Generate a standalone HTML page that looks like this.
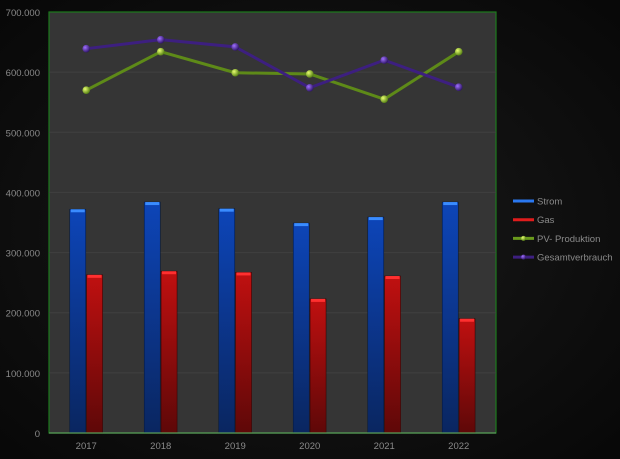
<!DOCTYPE html>
<html><head><meta charset="utf-8">
<style>
html,body{margin:0;padding:0;background:#000;}
svg{display:block;font-family:"Liberation Sans",sans-serif;}
</style></head>
<body>
<svg id="chart" width="620" height="459" viewBox="0 0 620 459">
<defs>
<radialGradient id="bg" cx="0.5" cy="0.5" r="0.8"><stop offset="0" stop-color="#1a1a1a"/><stop offset="1" stop-color="#050505"/></radialGradient>
<linearGradient id="gBlue" x1="0" x2="0" y1="0" y2="1"><stop offset="0" stop-color="#0d45b8"/><stop offset="1" stop-color="#0a2660"/></linearGradient>
<linearGradient id="gRed" x1="0" x2="0" y1="0" y2="1"><stop offset="0" stop-color="#c01010"/><stop offset="1" stop-color="#5e0808"/></linearGradient>
<radialGradient id="gGreen" cx="0.35" cy="0.35" r="0.7"><stop offset="0" stop-color="#e8ff70"/><stop offset="1" stop-color="#4f7a10"/></radialGradient>
<radialGradient id="gPurple" cx="0.35" cy="0.35" r="0.7"><stop offset="0" stop-color="#a070ff"/><stop offset="1" stop-color="#2a1260"/></radialGradient>
</defs>
<rect width="620" height="459" fill="url(#bg)"/>
<rect x="49" y="12" width="447" height="421" fill="#353535" stroke="#1c7a1c" stroke-width="1.2"/>
<g id="grid"></g><g id="bars"></g><g id="lines"></g><g id="axes"></g><g id="legend"></g>
</svg>
<script>
const categories=["2017","2018","2019","2020","2021","2022"];
const strom=[372000,384000,373000,349000,359000,384000];
const gas=[263000,269000,267000,223000,261000,190000];
const pv=[570000,634000,599000,597000,555000,634000];
const gesamt=[639000,654000,642000,574000,620000,575000];
const yTicks=[0,100000,200000,300000,400000,500000,600000,700000];
const yTickLabels=["0","100.000","200.000","300.000","400.000","500.000","600.000","700.000"];

const NS="http://www.w3.org/2000/svg";
const PL=49,PR=496,PT=12,PB=433,YMAX=700000;
const bw=(PR-PL)/categories.length;
function x(i){return PL+bw*(i+0.5);}
function y(v){return PB-(v/YMAX)*(PB-PT);}
function mk(tag,attrs,parent){const e=document.createElementNS(NS,tag);for(const k in attrs)e.setAttribute(k,attrs[k]);parent.appendChild(e);return e;}
const grid=document.getElementById('grid'),axes=document.getElementById('axes'),bars=document.getElementById('bars'),lines=document.getElementById('lines'),legend=document.getElementById('legend');

yTicks.forEach((t,i)=>{
  if(t>0&&t<YMAX){const g=mk('line',{x1:PL,x2:PR,y1:y(t),y2:y(t),stroke:'#404040','stroke-width':1},grid);
  
  }
  const l=mk('text',{x:40,y:y(t)+4,'text-anchor':'end','font-size':9.5,fill:'#8a8a8a'},axes);
  l.textContent=yTickLabels[i];
  
  
});
const base=mk('line',{x1:PL,x2:PR,y1:PB,y2:PB,stroke:'#5a9a5a','stroke-width':1.2},axes);


categories.forEach((c,i)=>{
  const l=mk('text',{x:x(i),y:449,'text-anchor':'middle','font-size':9.5,fill:'#8a8a8a'},axes);
  l.textContent=c;
  
  
  const b=mk('rect',{x:x(i)-16.5,y:y(strom[i]),width:16,height:PB-y(strom[i]),fill:'url(#gBlue)',stroke:'#061a40','stroke-width':0.6},bars);
  
  
  const bt=mk('rect',{x:x(i)-15.5,y:y(strom[i]),width:14,height:3,fill:'#3a8cff'},bars);
  
  
  const r=mk('rect',{x:x(i)+0.3,y:y(gas[i]),width:16,height:PB-y(gas[i]),fill:'url(#gRed)',stroke:'#3a0404','stroke-width':0.6},bars);
  
  
  const rt=mk('rect',{x:x(i)+1.3,y:y(gas[i]),width:14,height:3,fill:'#ff3030'},bars);
  
  
});
function series(vals,color,grad,name){
  const p=mk('polyline',{points:vals.map((v,i)=>x(i)+','+y(v)).join(' '),fill:'none',stroke:color,'stroke-width':3,'stroke-linejoin':'round'},lines);
  
  
  vals.forEach((v,i)=>{
    const c=mk('circle',{cx:x(i),cy:y(v),r:3.8,fill:'url(#'+grad+')'},lines);
    
    
  });
}
series(pv,'#5e8a18','gGreen','pv-produktion');
series(gesamt,'#3d1f80','gPurple','gesamtverbrauch');

const items=[["Strom","#2a78f0",null],["Gas","#e01c1c",null],["PV- Produktion","#6a9a1c","gGreen"],["Gesamtverbrauch","#3d1f80","gPurple"]];
items.forEach((it,k)=>{
  const yy=201+k*18.7;
  const g=mk('g',{},legend);
  
  
  mk('line',{x1:513,x2:534,y1:yy,y2:yy,stroke:it[1],'stroke-width':3},g);
  if(it[2])mk('circle',{cx:523.5,cy:yy,r:2.5,fill:'url(#'+it[2]+')'},g);
  const t=mk('text',{x:537,y:yy+3.5,'font-size':9.5,fill:'#8a8a8a'},g);
  t.textContent=it[0];
});
</script>
</body></html>
